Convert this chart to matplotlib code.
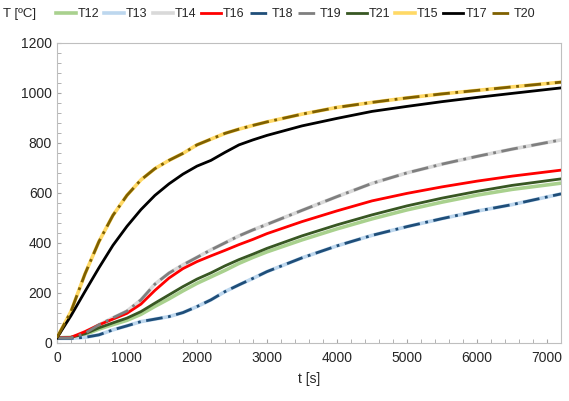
import numpy as np
import matplotlib
matplotlib.use('Agg')
import matplotlib.pyplot as plt
from matplotlib.ticker import MultipleLocator

plt.rcParams['font.family'] = ['Liberation Sans', 'DejaVu Sans']

# time [s]
t = [0, 200, 400, 600, 800, 1000, 1200, 1400, 1600, 1800, 2000, 2200,
     2400, 2600, 2800, 3000, 3500, 4000, 4500, 5000, 5500, 6000, 6500, 7200]

# temperatures [ºC]
T12 = [20, 22, 33, 55, 73, 90, 114, 146, 176, 208, 238, 264,
       290, 318, 342, 364, 412, 456, 496, 532, 563, 591, 614, 639]
T13 = [18, 18, 22, 32, 52, 68, 85, 95, 105, 121, 145, 172,
       205, 232, 258, 285, 340, 388, 430, 465, 497, 527, 553, 596]
T14 = [20, 20, 38, 72, 100, 127, 172, 235, 279, 312, 342, 372,
       400, 428, 452, 474, 530, 585, 638, 680, 715, 746, 775, 812]
T16 = [20, 22, 45, 72, 95, 118, 155, 210, 259, 297, 325, 348,
       370, 393, 414, 437, 485, 528, 568, 598, 624, 647, 667, 691]
T18 = [18, 18, 22, 32, 52, 68, 85, 95, 105, 121, 145, 172,
       205, 232, 258, 285, 340, 388, 430, 465, 497, 527, 553, 596]
T19 = [20, 20, 38, 72, 100, 127, 172, 235, 279, 312, 342, 372,
       400, 428, 452, 474, 530, 585, 638, 680, 715, 746, 775, 812]
T21 = [20, 22, 36, 60, 80, 99, 125, 159, 192, 225, 255, 280,
       308, 333, 355, 378, 428, 472, 512, 548, 579, 606, 630, 656]
T15 = [20, 125, 275, 405, 510, 590, 652, 697, 730, 758, 792, 815,
       838, 855, 870, 884, 915, 942, 962, 980, 996, 1010, 1024, 1043]
T17 = [20, 108, 205, 300, 390, 466, 533, 590, 636, 675, 707, 730,
       762, 792, 812, 830, 868, 898, 926, 946, 965, 982, 998, 1020]
T20 = [20, 125, 275, 405, 510, 590, 652, 697, 730, 758, 792, 815,
       838, 855, 870, 884, 915, 942, 962, 980, 996, 1010, 1024, 1043]

dd = (6, 2, 1, 2)  # long dash dot
series = [
    ('T12', T12, '#a9d18e', 2.6, None),
    ('T13', T13, '#bdd7ee', 2.6, None),
    ('T14', T14, '#d9d9d9', 2.6, None),
    ('T16', T16, '#ff0000', 2.0, None),
    ('T18', T18, '#1f4e79', 2.0, dd),
    ('T19', T19, '#7f7f7f', 2.0, dd),
    ('T21', T21, '#385723', 2.0, None),
    ('T15', T15, '#ffd966', 2.6, None),
    ('T17', T17, '#000000', 2.0, None),
    ('T20', T20, '#7f6000', 2.0, dd),
]
# draw order: light underlays first
order = ['T12', 'T13', 'T14', 'T15', 'T21', 'T16', 'T18', 'T19', 'T17', 'T20']

fig = plt.figure(figsize=(5.69, 4.01), dpi=100)
ax = fig.add_axes([0.100, 0.145, 0.886, 0.748])

lines = {}
for name, y, c, lw, dash in series:
    ln, = ax.plot(t, y, color=c, lw=lw, label=name, zorder=order.index(name) + 2)
    if dash:
        ln.set_dashes(dash)
    lines[name] = ln

ax.set_xlim(0, 7200)
ax.set_ylim(0, 1200)
ax.xaxis.set_major_locator(MultipleLocator(1000))
ax.xaxis.set_minor_locator(MultipleLocator(200))
ax.yaxis.set_major_locator(MultipleLocator(200))
ax.yaxis.set_minor_locator(MultipleLocator(40))
ax.tick_params(which='both', direction='in', length=3, color='#a6a6a6',
               labelsize=10, labelcolor='#262626')
ax.tick_params(axis='x', pad=6)
for s in ax.spines.values():
    s.set_color('#bfbfbf')

ax.set_xlabel('t [s]', fontsize=10, color='#262626', labelpad=5)
fig.text(0.006, 0.965, 'T [ºC]', fontsize=9.5, color='#262626', va='center')

leg = fig.legend(handles=[lines[n] for n, *_ in series], loc='center left',
                 bbox_to_anchor=(0.098, 0.965), ncol=10, frameon=False,
                 fontsize=9, handlelength=1.6, handletextpad=0.15,
                 columnspacing=0.4, borderaxespad=0, borderpad=0,
                 labelcolor='#262626')

fig.savefig('out.png', dpi=100)
